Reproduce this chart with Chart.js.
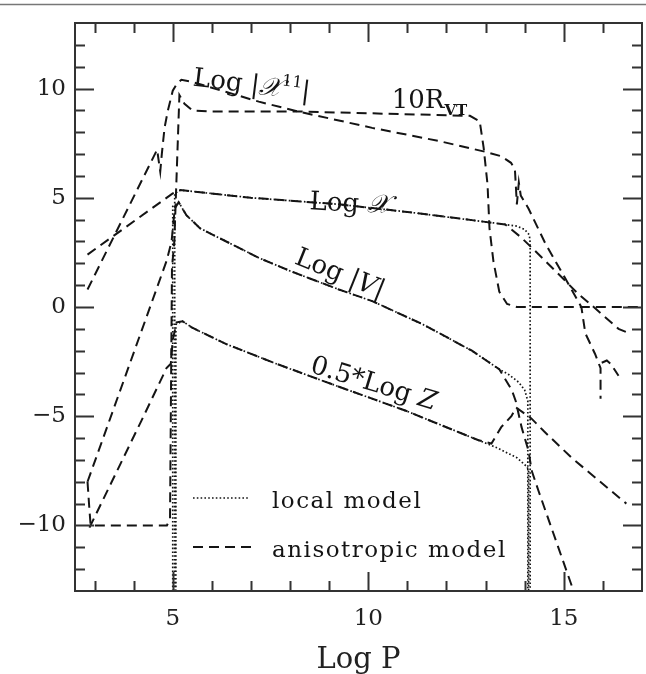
<!DOCTYPE html>
<html><head><meta charset="utf-8">
<script src="https://cdn.jsdelivr.net/npm/chart.js@4.4.0/dist/chart.umd.min.js"></script>
<style>html,body{margin:0;padding:0;background:#fff;}#wrap{width:646px;height:674px;}</style>
</head><body><div id="wrap"><canvas id="c" width="646" height="674"></canvas></div>
<script>
// ---------- data ----------
const xTickValues = [5, 10, 15];
const yTickValues = [-10, -5, 0, 5, 10];

// Log |X^11|, anisotropic model
const chi11AnisoX = [2.82, 4.6, 4.68, 4.72, 4.79, 4.87, 5.0, 5.1, 5.22, 5.5, 7.2, 8.2, 10.1, 11.8, 13.0, 13.4, 13.65, 13.75, 13.8, 13.85, 13.9, 14.1, 14.53, 15.04, 15.45, 15.55, 15.8, 15.94, 15.94];
const chi11AnisoY = [0.8, 7.2, 6.2, 7.0, 8.2, 8.95, 9.9, 10.2, 10.4, 10.3, 9.4, 8.95, 8.2, 7.6, 7.1, 6.9, 6.6, 6.3, 4.7, 5.7, 5.1, 4.5, 2.9, 1.3, 0.0, -1.2, -2.15, -2.8, -4.2];
const chi11HookX = [15.97, 16.1, 16.2, 16.4];
const chi11HookY = [-2.55, -2.45, -2.6, -3.15];

// 10 R_VT, anisotropic model
const rvtAnisoX = [2.82, 2.87, 2.9, 4.85, 4.93, 4.95, 4.98, 5.04, 5.17, 5.3, 5.5, 6.0, 8.2, 12.6, 12.85, 12.95, 13.05, 13.1, 13.2, 13.35, 13.55, 13.8, 17];
const rvtAnisoY = [-8.0, -9.3, -10.0, -10.0, -9.7, -5.0, 1.8, 3.0, 9.7, 9.3, 9.0, 8.95, 8.95, 8.75, 8.5, 7.3, 5.6, 3.6, 2.1, 0.7, 0.14, 0.0, 0.0];

// Log X
const chiAnisoX = [2.82, 4.92, 5.0, 5.2, 7.0, 9.25, 11.0, 13.2, 13.5, 13.9, 14.27, 14.87, 15.37, 15.7, 16.4, 16.6];
const chiAnisoY = [2.4, 5.1, 5.2, 5.35, 5.0, 4.7, 4.35, 3.85, 3.78, 3.2, 2.56, 1.5, 0.6, 0.1, -1.0, -1.15];
const chiLocalX = [5.05, 5.05, 5.2, 7.0, 9.25, 11.0, 13.2, 13.5, 13.8, 14.0, 14.12, 14.14, 14.14];
const chiLocalY = [-13, 5.2, 5.35, 5.0, 4.7, 4.35, 3.85, 3.78, 3.7, 3.55, 3.3, 2.9, -13];

// Log |V|
const vAnisoX = [2.82, 4.84, 4.97, 5.05, 5.15, 5.35, 5.7, 7.2, 8.0, 9.25, 10.1, 11.4, 12.65, 13.35, 13.67, 13.77, 13.92, 14.1, 14.18, 14.35, 14.8, 15.25];
const vAnisoY = [-8.0, 2.1, 3.0, 4.5, 4.8, 4.2, 3.6, 2.25, 1.65, 0.8, 0.27, -0.8, -2.0, -2.85, -3.8, -4.3, -5.5, -6.6, -7.5, -8.4, -10.7, -13];
const vLocalX = [5.0, 5.0, 5.15, 5.35, 5.7, 7.2, 8.0, 9.25, 10.1, 11.4, 12.65, 13.35, 13.6, 13.85, 14.0, 14.08, 14.08];
const vLocalY = [-13, 4.6, 4.8, 4.2, 3.6, 2.25, 1.65, 0.8, 0.27, -0.8, -2.0, -2.85, -3.1, -3.45, -3.8, -4.3, -13];

// 0.5 * Log Z
const zAnisoX = [2.87, 4.2, 4.84, 4.95, 5.0, 5.1, 5.25, 5.5, 6.37, 7.65, 9.25, 10.96, 12.82, 13.15, 13.4, 13.66, 13.78, 14.17, 14.5, 15.2, 15.8, 16.6];
const zAnisoY = [-10.1, -5.2, -2.8, -2.6, -1.5, -0.7, -0.65, -0.95, -1.7, -2.6, -3.65, -4.75, -6.1, -6.25, -5.5, -5.0, -4.6, -5.1, -5.7, -6.9, -7.8, -9.0];
const zLocalX = [5.08, 5.08, 5.25, 5.5, 6.37, 7.65, 9.25, 10.96, 12.82, 13.3, 13.8, 14.05, 14.1, 14.1];
const zLocalY = [-13, -0.8, -0.65, -0.95, -1.7, -2.6, -3.65, -4.75, -6.1, -6.45, -6.9, -7.3, -7.45, -13];

const legendLabels = ['local model', 'anisotropic model'];

// ---------- styling / building ----------
const INK = '#141414';
const SERIF = "'DejaVu Serif', 'Liberation Serif', serif";
function pts(xs, ys){ return xs.map((x,i)=>({x, y: ys[i]})); }
function dashed(xs, ys){ return {data: pts(xs, ys), borderColor: INK, borderWidth: 2, borderDash: [10, 6], pointRadius: 0, fill: false, tension: 0}; }
function dotted(xs, ys){ return {data: pts(xs, ys), borderColor: INK, borderWidth: 1.7, borderDash: [1.6, 2.2], pointRadius: 0, fill: false, tension: 0}; }

const datasets = [
  dashed(chi11AnisoX, chi11AnisoY), dashed(chi11HookX, chi11HookY),
  dashed(rvtAnisoX, rvtAnisoY),
  dashed(chiAnisoX, chiAnisoY), dotted(chiLocalX, chiLocalY),
  dashed(vAnisoX, vAnisoY), dotted(vLocalX, vLocalY),
  dashed(zAnisoX, zAnisoY), dotted(zLocalX, zLocalY)
];

const fmt = v => (v < 0 ? '\u2212' + Math.abs(v) : String(v));

const F = (size, style) => (style ? style + ' ' : '') + size + 'px ' + SERIF;
const curveLabels = [
  {x: 5.5, y: 10.14, a: 7, parts: [{t:'Log |', f:F(26)}, {t:'\u{1D4B3}', f:F(26,'italic')}, {t:'11', f:F(16), dy:-11}, {t:'|', f:F(26)}]},
  {x: 10.6, y: 9.09, a: 0, parts: [{t:'10R', f:F(26)}, {t:'VT', f:'bold 15px ' + SERIF, dy:7}]},
  {x: 8.49, y: 4.47, a: 3, parts: [{t:'Log ', f:F(26)}, {t:'\u{1D4B3}', f:F(26,'italic')}]},
  {x: 8.09, y: 2.0, a: 22, parts: [{t:'Log |', f:F(26)}, {t:'V', f:F(26,'italic')}, {t:'|', f:F(26)}]},
  {x: 8.49, y: -2.97, a: 17, parts: [{t:'0.5*Log ', f:F(26)}, {t:'Z', f:F(26,'italic')}]}
];

function drawRich(ctx, px, py, ang, parts){
  ctx.save(); ctx.translate(px, py); ctx.rotate(ang*Math.PI/180);
  ctx.textBaseline = 'alphabetic'; ctx.textAlign = 'left'; ctx.fillStyle = INK;
  let cx = 0;
  for (const p of parts){ ctx.font = p.f; ctx.fillText(p.t, cx, p.dy || 0); cx += ctx.measureText(p.t).width; }
  ctx.restore();
}

const decor = {
  id: 'decor',
  afterDatasetsDraw(chart){
    const {ctx, chartArea: a, scales: {x, y}} = chart;
    ctx.save();
    // outer picture border (top)
    ctx.strokeStyle = '#777'; ctx.lineWidth = 1.5;
    ctx.beginPath(); ctx.moveTo(0, 4.5); ctx.lineTo(646, 4.5); ctx.stroke();
    // frame
    ctx.strokeStyle = '#333'; ctx.lineWidth = 2; ctx.setLineDash([]);
    ctx.strokeRect(a.left, a.top, a.right - a.left, a.bottom - a.top);
    // inward ticks
    ctx.lineWidth = 2;
    ctx.beginPath();
    for (let v = Math.ceil(x.min); v < x.max; v++){
      const p = Math.round(x.getPixelForValue(v)) + 0.5, L = v % 5 === 0 ? 19 : 10;
      ctx.moveTo(p, a.bottom); ctx.lineTo(p, a.bottom - L);
      ctx.moveTo(p, a.top); ctx.lineTo(p, a.top + L);
    }
    for (let v = Math.ceil(y.min) + 1; v < y.max; v++){
      const p = Math.round(y.getPixelForValue(v)) + 0.5, L = v % 5 === 0 ? 19 : 10;
      ctx.moveTo(a.left, p); ctx.lineTo(a.left + L, p);
      ctx.moveTo(a.right, p); ctx.lineTo(a.right - L, p);
    }
    ctx.stroke();
    // curve labels
    for (const l of curveLabels) drawRich(ctx, x.getPixelForValue(l.x), y.getPixelForValue(l.y), l.a, l.parts);
    // legend
    ctx.strokeStyle = INK;
    ctx.lineWidth = 1.7; ctx.setLineDash([1.6, 2.2]);
    ctx.beginPath(); ctx.moveTo(193, 498); ctx.lineTo(250, 498); ctx.stroke();
    ctx.lineWidth = 2; ctx.setLineDash([10, 6]);
    ctx.beginPath(); ctx.moveTo(193, 547); ctx.lineTo(252, 547); ctx.stroke();
    ctx.setLineDash([]);
    ctx.fillStyle = INK; ctx.font = F(23); ctx.textBaseline = 'alphabetic';
    try { ctx.letterSpacing = '1.5px'; } catch(e){}
    ctx.fillText(legendLabels[0], 272, 508);
    ctx.fillText(legendLabels[1], 272, 557);
    ctx.restore();
  }
};

new Chart(document.getElementById('c'), {
  type: 'line',
  data: {datasets},
  plugins: [decor],
  options: {
    responsive: false, animation: false, devicePixelRatio: 1,
    layout: {padding: {top: 23, right: 4, left: 0, bottom: 0}},
    plugins: {legend: {display: false}, tooltip: {enabled: false}},
    scales: {
      x: {
        type: 'linear', min: 2.5, max: 17,
        grid: {display: false, drawTicks: false}, border: {display: false},
        afterBuildTicks: s => { s.ticks = xTickValues.map(v => ({value: v})); },
        afterFit: s => { s.height = 83; },
        ticks: {font: {family: SERIF, size: 23}, color: '#222', padding: 14, maxRotation: 0, autoSkip: false, callback: v => fmt(v)},
        title: {display: true, text: 'Log P', font: {family: SERIF, size: 29}, color: '#222', padding: {top: 0, bottom: -4}}
      },
      y: {
        type: 'linear', min: -13, max: 13,
        grid: {display: false, drawTicks: false}, border: {display: false},
        afterBuildTicks: s => { s.ticks = yTickValues.map(v => ({value: v})); },
        afterFit: s => { s.width = 75; },
        ticks: {font: {family: SERIF, size: 23}, color: '#222', padding: 9, autoSkip: false, callback: v => fmt(v)}
      }
    }
  }
});
</script></body></html>
